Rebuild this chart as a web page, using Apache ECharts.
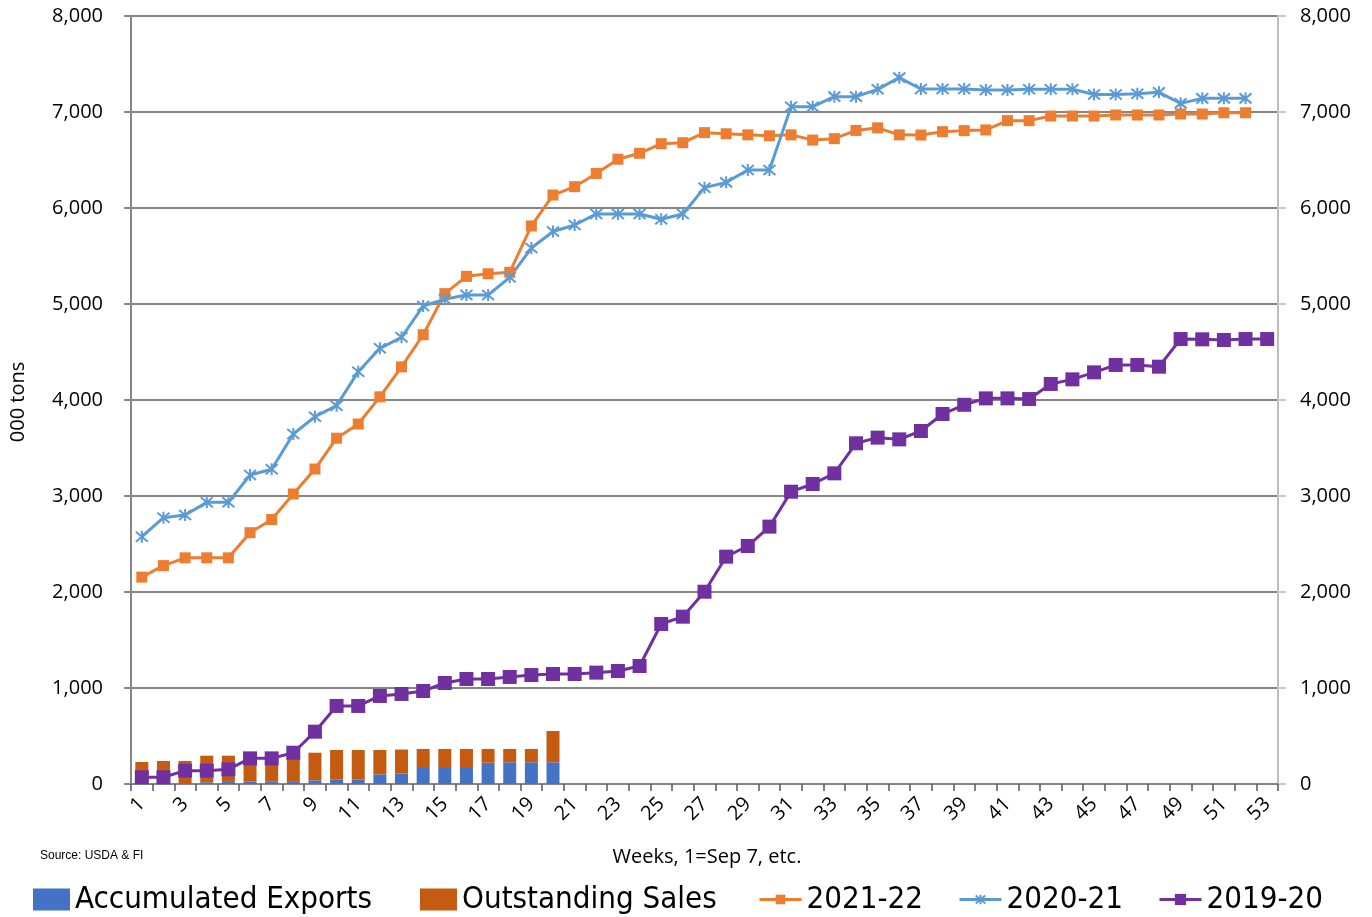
<!DOCTYPE html>
<html>
<head>
<meta charset="utf-8">
<script src="https://cdn.jsdelivr.net/npm/echarts@6/dist/echarts.min.js"></script>
<style>
  html, body { margin: 0; padding: 0; background: #ffffff; }
  #chart { width: 1372px; height: 917px; }
</style>
</head>
<body>
<div id="chart"></div>
<script>
// Week numbers on the category axis (1 = Sep 7)
const weeks = ['1','2','3','4','5','6','7','8','9','10','11','12','13','14','15','16','17','18','19','20',
  '21','22','23','24','25','26','27','28','29','30','31','32','33','34','35','36','37','38','39','40',
  '41','42','43','44','45','46','47','48','49','50','51','52','53'];

// Current season commitments, 000 tons
const accumulatedExports = [3, 3, 8, 18, 22, 25, 28, 30, 38, 45, 45, 100, 108, 177, 177, 177, 222, 226, 226, 226];
const outstandingSales   = [226, 237, 232, 277, 273, 265, 267, 280, 288, 309, 309, 254, 251, 188, 188, 188, 143, 139, 139, 326];

// Total commitments by marketing year, 000 tons
const my2021_22 = [2155, 2275, 2356, 2356, 2356, 2618, 2755, 3021, 3281, 3602,
  3750, 4033, 4345, 4680, 5108, 5288, 5315, 5330, 5813, 6135,
  6222, 6360, 6508, 6570, 6670, 6680, 6785, 6773, 6762, 6752,
  6762, 6708, 6722, 6808, 6835, 6762, 6760, 6795, 6806, 6813,
  6910, 6910, 6958, 6958, 6958, 6969, 6969, 6969, 6979, 6979,
  6992, 6992];
const my2020_21 = [2576, 2774, 2802, 2934, 2934, 3219, 3278, 3646, 3826, 3941,
  4295, 4538, 4653, 4979, 5049, 5094, 5094, 5278, 5583, 5755,
  5823, 5938, 5938, 5938, 5882, 5938, 6212, 6267, 6396, 6396,
  7055, 7055, 7160, 7160, 7236, 7358, 7240, 7240, 7240, 7229,
  7229, 7238, 7238, 7238, 7182, 7182, 7190, 7205, 7090, 7142,
  7142, 7142];
const my2019_20 = [70, 70, 139, 139, 153, 267, 267, 326, 545, 813,
  813, 917, 938, 969, 1052, 1094, 1094, 1115, 1135, 1146,
  1146, 1160, 1177, 1229, 1667, 1743, 2003, 2368, 2479, 2681,
  3045, 3125, 3236, 3549, 3608, 3590, 3677, 3854, 3950, 4017,
  4017, 4010, 4167, 4215, 4288, 4365, 4365, 4347, 4635, 4632,
  4625, 4635, 4635];

const FONT = '"Open Sans", "Noto Sans", sans-serif';
const LEGEND_FONT = '"DejaVu Sans Condensed", "Liberation Sans Narrow", "Open Sans", sans-serif';
const GRID_GRAY = '#868686';

const C_EXP = '#4472C4';
const C_OUT = '#C55A11';
const C_21 = '#ED7D31';
const C_20 = '#5B9BD5';
const C_19 = '#7030A0';

// asterisk marker: two diagonals plus a vertical stroke
const ASTERISK = 'path://M0,0L10,10M10,0L0,10M5,-1L5,11';

// legend text size: fit the longest entry into a fixed width with whichever face is present
function fitFontSize(text, family, targetWidth, maxSize) {
  const ctx = document.createElement('canvas').getContext('2d');
  ctx.font = '100px ' + family;
  const w = ctx.measureText(text).width;
  return Math.min(maxSize, Math.floor(100 * targetWidth / w));
}
const LEGEND_SIZE = fitFontSize('Accumulated Exports', LEGEND_FONT, 304, 34);

const chart = echarts.init(document.getElementById('chart'), null, { renderer: 'canvas' });

function legendAt(name, left, opts) {
  return Object.assign({
    data: [name],
    left: left,
    top: 884,
    padding: 0,
    itemGap: 0,
    textStyle: { fontFamily: LEGEND_FONT, fontSize: LEGEND_SIZE, color: '#000', padding: [0, 0, 0, 0] },
    selectedMode: false
  }, opts || {});
}

const option = {
  backgroundColor: '#ffffff',
  animation: false,
  grid: { left: 131, right: 94, top: 16, bottom: 133, containLabel: false },
  legend: [
    legendAt('Accumulated Exports', 33, { icon: 'rect', itemWidth: 37, itemHeight: 22 }),
    legendAt('Outstanding Sales', 420, { icon: 'rect', itemWidth: 37, itemHeight: 22 }),
    legendAt('2021-22', 758, { itemWidth: 42, itemHeight: 12, lineStyle: { width: 3 } }),
    legendAt('2020-21', 958, { itemWidth: 42, itemHeight: 12, lineStyle: { width: 3 } }),
    legendAt('2019-20', 1158, { itemWidth: 42, itemHeight: 14, lineStyle: { width: 3 } })
  ],
  xAxis: {
    type: 'category',
    data: weeks,
    boundaryGap: true,
    axisLine: { lineStyle: { color: GRID_GRAY, width: 2 } },
    axisTick: { show: true, interval: 0, length: 7, lineStyle: { color: '#555', width: 1.5 } },
    axisLabel: {
      interval: 1,
      rotate: 45,
      margin: 17,
      fontFamily: FONT,
      fontSize: 20,
      color: '#000'
    },
    splitLine: { show: false }
  },
  yAxis: [
    {
      type: 'value',
      min: 0,
      max: 8000,
      interval: 1000,
      position: 'left',
      axisLine: { show: true, lineStyle: { color: GRID_GRAY, width: 2 } },
      axisTick: { show: true, length: 7, lineStyle: { color: GRID_GRAY, width: 2 } },
      axisLabel: {
        margin: 28,
        fontFamily: FONT,
        fontSize: 20,
        color: '#000',
        formatter: v => v.toLocaleString('en-US')
      },
      splitLine: { show: true, lineStyle: { color: GRID_GRAY, width: 2 } }
    },
    {
      type: 'value',
      min: 0,
      max: 8000,
      interval: 1000,
      position: 'right',
      axisLine: { show: true, lineStyle: { color: '#bdbdbd', width: 2 } },
      axisTick: { show: true, length: 8, lineStyle: { color: '#c8c8c8', width: 2 } },
      axisLabel: {
        margin: 22,
        fontFamily: FONT,
        fontSize: 20,
        color: '#000',
        formatter: v => v.toLocaleString('en-US')
      },
      splitLine: { show: false }
    }
  ],
  series: [
    {
      name: 'Accumulated Exports',
      type: 'bar',
      stack: 'sales',
      data: accumulatedExports,
      barWidth: 13,
      itemStyle: { color: C_EXP },
      z: 1
    },
    {
      name: 'Outstanding Sales',
      type: 'bar',
      stack: 'sales',
      data: outstandingSales,
      barWidth: 13,
      itemStyle: { color: C_OUT },
      z: 1
    },
    {
      name: '2021-22',
      type: 'line',
      data: my2021_22,
      symbol: 'rect',
      symbolSize: 11,
      showAllSymbol: true,
      lineStyle: { color: C_21, width: 3 },
      itemStyle: { color: C_21 },
      z: 3
    },
    {
      name: '2020-21',
      type: 'line',
      data: my2020_21,
      symbol: ASTERISK,
      symbolSize: 12,
      showAllSymbol: true,
      lineStyle: { color: C_20, width: 3 },
      itemStyle: { color: C_20, borderColor: C_20, borderWidth: 2 },
      z: 3
    },
    {
      name: '2019-20',
      type: 'line',
      data: my2019_20,
      symbol: 'rect',
      symbolSize: 14,
      showAllSymbol: true,
      lineStyle: { color: C_19, width: 3 },
      itemStyle: { color: C_19 },
      z: 4
    }
  ],
  graphic: [
    {
      type: 'text',
      x: 18,
      y: 402,
      rotation: Math.PI / 2,
      style: {
        text: '000 tons',
        fontFamily: FONT,
        fontSize: 20,
        fill: '#000',
        align: 'center',
        verticalAlign: 'middle'
      }
    },
    {
      type: 'text',
      x: 707,
      y: 857,
      style: {
        text: 'Weeks, 1=Sep 7, etc.',
        fontFamily: FONT,
        fontSize: 20,
        fill: '#000',
        align: 'center',
        verticalAlign: 'middle'
      }
    },
    {
      type: 'text',
      x: 40,
      y: 856,
      style: {
        text: 'Source: USDA & FI',
        fontFamily: '"Liberation Sans", Arial, sans-serif',
        fontSize: 12,
        fill: '#000',
        align: 'left',
        verticalAlign: 'middle'
      }
    }
  ]
};

chart.setOption(option);
</script>
</body>
</html>
